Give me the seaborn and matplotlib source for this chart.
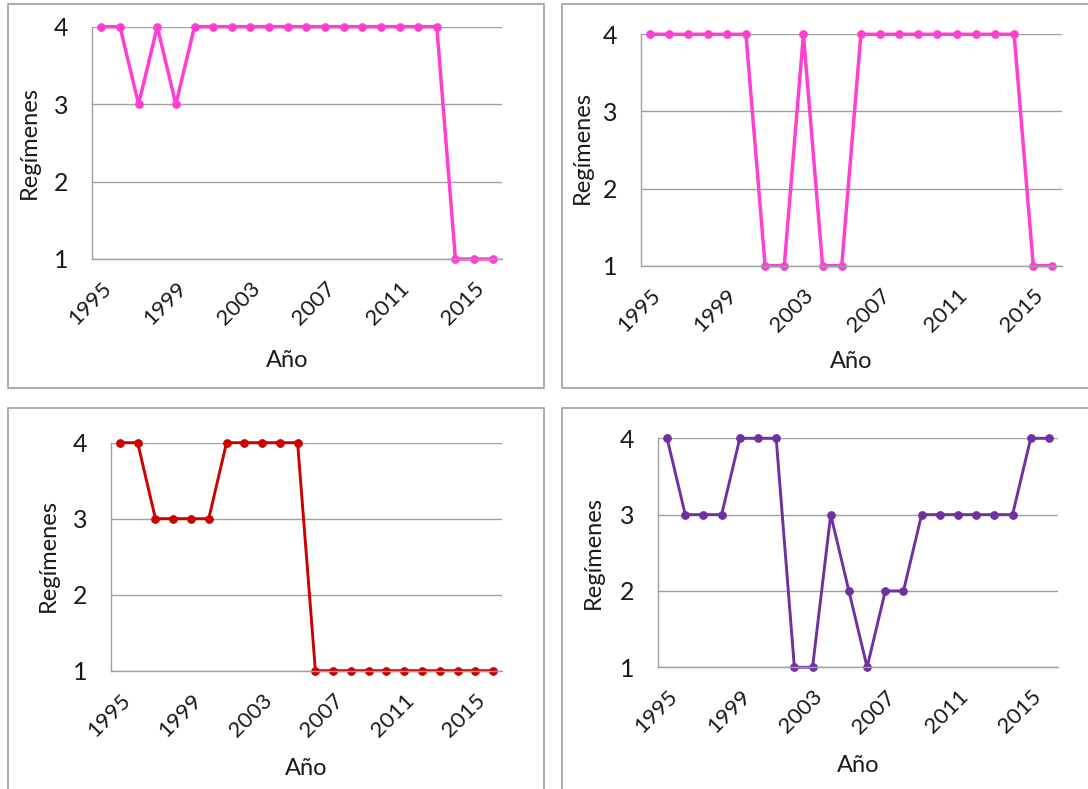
import matplotlib
matplotlib.use("Agg")
import matplotlib.pyplot as plt
from matplotlib.patches import Rectangle
import seaborn as sns
import pandas as pd

# Years on the category axis
years = list(range(1995, 2017))
tick_years = [1995, 1999, 2003, 2007, 2011, 2015]
y_ticks = [1, 2, 3, 4]

# Number of regimes per year, one series per panel
regimes_a = [4, 4, 3, 4, 3, 4, 4, 4, 4, 4, 4, 4, 4, 4, 4, 4, 4, 4, 4, 1, 1, 1]
regimes_b = [4, 4, 4, 4, 4, 4, 1, 1, 4, 1, 1, 4, 4, 4, 4, 4, 4, 4, 4, 4, 1, 1]
regimes_c = [4, 4, 3, 3, 3, 3, 4, 4, 4, 4, 4, 1, 1, 1, 1, 1, 1, 1, 1, 1, 1, 1]
regimes_d = [4, 3, 3, 3, 4, 4, 4, 1, 1, 3, 2, 1, 2, 2, 3, 3, 3, 3, 3, 3, 4, 4]

x_label = "Año"
y_label = "Regímenes"

sns.set_style("white")
plt.rcParams["font.family"] = ["Lato", "DejaVu Sans"]

W, H = 1088, 789
fig = plt.figure(figsize=(W / 100, H / 100), dpi=100)


def px_rect(left, top, right, bottom):
    """Figure-fraction rectangle from pixel edges (origin top-left)."""
    return [left / W, 1 - bottom / H, (right - left) / W, (bottom - top) / H]


# Chart frames around each panel
frame_color = "#A6A6A6"
for (l, t, r, b) in [(8, 4, 544, 388), (562, 4, 1100, 388),
                     (8, 408, 544, 800), (562, 408, 1100, 800)]:
    fig.add_artist(Rectangle((l / W, 1 - b / H), (r - l) / W, (b - t) / H,
                             transform=fig.transFigure, fill=False,
                             edgecolor=frame_color, linewidth=1.3))

panels = [
    # series, colour, plot-area pixels (l, t, r, b), xlabel pos, ylabel pos, line width
    (regimes_a, "#FF3FD2", (92, 26.7, 502, 259), (0.476, -0.435), (-0.152, 0.5), 2.5),
    (regimes_b, "#FF3FD2", (640.6, 34.3, 1062, 265.7), (0.499, -0.416), (-0.137, 0.509), 2.5),
    (regimes_c, "#CC0000", (111, 442.7, 502, 670.7), (0.499, -0.427), (-0.159, 0.507), 2.1),
    (regimes_d, "#7030A0", (658, 438.3, 1058, 667.3), (0.5, -0.427), (-0.161, 0.5), 2.1),
]

text_color = "#1A1A1A"
grid_color = "#A0A0A0"
for values, color, (l, t, r, b), xl_pos, yl_pos, lw in panels:
    ax = fig.add_axes(px_rect(l, t, r, b))
    df = pd.DataFrame({"Año": years, "Regímenes": values})
    sns.lineplot(data=df, x="Año", y="Regímenes", ax=ax, color=color,
                 linewidth=lw, marker="o", markersize=5.5,
                 markeredgecolor=color, markerfacecolor=color, clip_on=False)
    ax.set_xlim(years[0] - 0.5, years[-1] + 0.5)
    ax.set_ylim(1, 4)
    ax.set_yticks(y_ticks)
    ax.set_yticklabels([str(v) for v in y_ticks], fontsize=18, color=text_color)
    ax.set_xticks(tick_years)
    ax.set_xticklabels([str(v) for v in tick_years], fontsize=16,
                       color=text_color, rotation=45, ha="right", va="top",
                       rotation_mode="anchor")
    ax.tick_params(axis="x", length=0, pad=14)
    ax.tick_params(axis="y", length=5, width=1, color=grid_color, pad=12)
    ax.grid(axis="y", color=grid_color, linewidth=1)
    ax.grid(axis="x", visible=False)
    ax.set_axisbelow(True)
    for side in ["top", "right"]:
        ax.spines[side].set_visible(False)
    for side in ["left", "bottom"]:
        ax.spines[side].set_color(grid_color)
        ax.spines[side].set_linewidth(1)
    ax.set_xlabel(x_label, fontsize=17, color=text_color)
    ax.set_ylabel(y_label, fontsize=17, color=text_color)
    ax.xaxis.label.set_verticalalignment("center")
    ax.yaxis.label.set_verticalalignment("center")
    ax.xaxis.set_label_coords(*xl_pos)
    ax.yaxis.set_label_coords(*yl_pos)
    ax.patch.set_alpha(0)

fig.savefig("out.png", dpi=100, facecolor="white")
